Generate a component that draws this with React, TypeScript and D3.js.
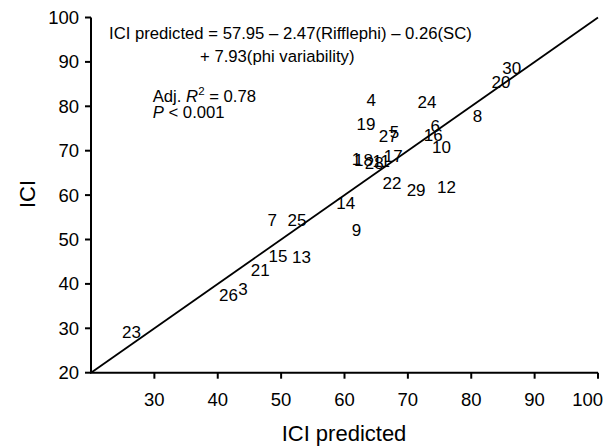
import React from "react";
import * as d3 from "d3";

const siteIds = ["30","20","8","24","4","19","5","27","6","16","10","1","18","28","11","17","22","29","12","14","7","25","9","15","13","21","26","3","23"];
const predicted = [86.4,84.7,81.0,73.0,64.2,63.4,67.9,66.9,74.3,74.0,75.3,61.9,63.0,64.7,65.8,67.7,67.5,71.3,76.1,60.2,48.6,52.5,61.9,49.5,53.2,46.7,41.7,44.0,26.4];
const observed = [88.7,85.5,77.8,80.9,81.5,76.0,74.3,73.2,75.6,73.5,70.8,68.2,68.0,67.2,67.7,68.8,62.7,61.1,61.9,58.2,54.3,54.4,52.1,46.2,46.1,43.1,37.6,38.8,29.1];
const xTicks = [30,40,50,60,70,80,90,100];
const yTicks = [20,30,40,50,60,70,80,90,100];

const W = 616, H = 447;
const FONT = "'Liberation Sans', Arial, sans-serif";

export default function App() {
  const x = d3.scaleLinear().domain([20, 100]).range([91, 598]);
  const y = d3.scaleLinear().domain([20, 100]).range([372.7, 17.5]);
  const line = d3.line<[number, number]>().x(d => x(d[0])).y(d => y(d[1]));
  const tickFs = 18.5;
  return (
    <svg width={W} height={H} style={{ position: "absolute", left: 0, top: 0, background: "#fff" }} fontFamily={FONT}>
      <rect width={W} height={H} fill="#fff" />
      {/* axes */}
      <line x1={x(20)} x2={x(20)} y1={y(100)} y2={y(20)} stroke="#000" strokeWidth={2} />
      <line x1={x(20) - 1} x2={x(100)} y1={y(20)} y2={y(20)} stroke="#000" strokeWidth={2} />
      {yTicks.map(t => (
        <g key={"y" + t}>
          <line x1={x(20) - 6} x2={x(20)} y1={y(t)} y2={y(t)} stroke="#000" strokeWidth={2} />
          <text x={79} y={y(t)} dy="0.35em" textAnchor="end" fontSize={tickFs}>{t}</text>
        </g>
      ))}
      {xTicks.map(t => {
        const label = String(t);
        const halfW = label.length * 0.556 * tickFs / 2;
        const cx = Math.min(x(t), 603 - halfW);
        return (
          <g key={"x" + t}>
            <line x1={x(t)} x2={x(t)} y1={y(20)} y2={y(20) + 6} stroke="#000" strokeWidth={2} />
            <text x={cx} y={406} textAnchor="middle" fontSize={tickFs}>{label}</text>
          </g>
        );
      })}
      {/* 1:1 line */}
      <path d={line([[20, 20], [100, 100]]) || ""} stroke="#000" strokeWidth={1.8} fill="none" />
      {/* site labels */}
      {siteIds.map((s, i) => (
        <text key={s} x={x(predicted[i])} y={y(observed[i])} dy="0.35em" textAnchor="middle" fontSize={17}>{s}</text>
      ))}
      {/* annotations */}
      <text x={109} y={39.3} fontSize={16.7}>ICI predicted = 57.95 – 2.47(Rifflephi) – 0.26(SC)</text>
      <text x={200} y={61.7} fontSize={16.7}>+ 7.93(phi variability)</text>
      <text x={152.7} y={101.5} fontSize={16.7}>
        Adj. <tspan fontStyle="italic">R</tspan>
        <tspan dy={-7} fontSize={11.5}>2</tspan>
        <tspan dy={7}> = 0.78</tspan>
      </text>
      <text x={152.7} y={117.5} fontSize={16.7}>
        <tspan fontStyle="italic">P</tspan> &lt; 0.001
      </text>
      {/* axis titles */}
      <text x={344} y={441} textAnchor="middle" fontSize={22}>ICI predicted</text>
      <text transform="translate(35,194) rotate(-90)" textAnchor="middle" fontSize={22}>ICI</text>
    </svg>
  );
}
